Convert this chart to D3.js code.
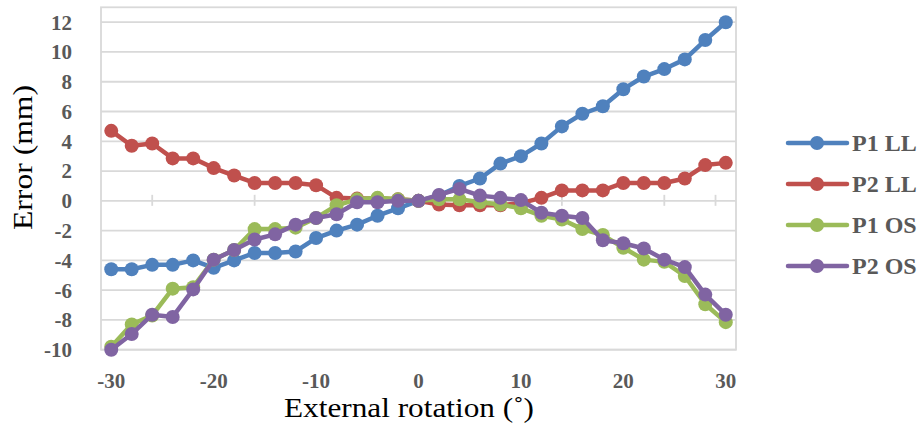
<!DOCTYPE html>
<html>
<head>
<meta charset="utf-8">
<script src="https://cdn.jsdelivr.net/npm/d3@7/dist/d3.min.js"></script>
<style>
  html, body { margin: 0; padding: 0; background: #fff; }
  svg { display: block; }
</style>
</head>
<body>
<svg id="chart" width="921" height="426" font-family="'Liberation Serif', 'Times New Roman', Times, serif"></svg>
<script>
// ---- Data ----
const rotation = [-30,-28,-26,-24,-22,-20,-18,-16,-14,-12,-10,-8,-6,-4,-2,0,2,4,6,8,10,12,14,16,18,20,22,24,26,28,30];
const p1LL = [-4.6,-4.6,-4.3,-4.3,-4.0,-4.5,-4.0,-3.5,-3.5,-3.4,-2.5,-2.0,-1.6,-1.0,-0.5,0,0.35,1.0,1.5,2.5,3.0,3.85,5.0,5.85,6.35,7.5,8.35,8.85,9.5,10.8,12.0];
const p2LL = [4.7,3.7,3.85,2.85,2.85,2.2,1.7,1.2,1.2,1.2,1.05,0.2,0.15,0.15,0.1,0,-0.25,-0.3,-0.3,-0.3,-0.15,0.2,0.7,0.7,0.7,1.2,1.2,1.2,1.5,2.4,2.55];
const p1OS = [-9.8,-8.3,-7.7,-5.9,-5.8,-3.95,-3.3,-1.9,-1.9,-1.8,-1.15,-0.3,0.1,0.2,0.1,0,0.1,0.1,-0.1,-0.25,-0.5,-1.0,-1.25,-1.9,-2.3,-3.15,-3.95,-4.1,-5.05,-6.95,-8.15];
const p2OS = [-10.0,-8.95,-7.65,-7.8,-5.95,-3.95,-3.3,-2.6,-2.25,-1.6,-1.15,-0.9,-0.1,-0.1,0,0,0.4,0.8,0.35,0.2,0.05,-0.8,-1.0,-1.15,-2.65,-2.85,-3.2,-3.95,-4.45,-6.3,-7.65];
const seriesNames = ["P1 LL","P2 LL","P1 OS","P2 OS"];
const seriesColors = ["#4F81BD","#C0504D","#9BBB59","#8064A2"];
const xTickLabels = [-30,-20,-10,0,10,20,30];
const xAxisMarks = [-26,-16,-6,4,14,24,29];
const yTickLabels = [-10,-8,-6,-4,-2,0,2,4,6,8,10,12];
const xTitle = "External rotation (˚)";
const yTitle = "Error (mm)";

const seriesData = [p1LL, p2LL, p1OS, p2OS];

// ---- Layout ----
const svg = d3.select("#chart");
const pLeft = 101, pRight = 736, pTop = 7.3, pBottom = 349.7;
const x = d3.scaleLinear().domain([-31, 31]).range([pLeft, pRight]);
const y = d3.scaleLinear().domain([-10, 13]).range([pBottom, pTop]);

svg.append("rect").attr("width", 921).attr("height", 426).attr("fill", "#fff");

// gridlines
svg.append("g").selectAll("line").data(yTickLabels).join("line")
  .attr("x1", pLeft).attr("x2", pRight)
  .attr("y1", d => y(d)).attr("y2", d => y(d))
  .attr("stroke", "#D9D9D9").attr("stroke-width", 1.8);

// plot border
svg.append("rect").attr("x", pLeft).attr("y", pTop)
  .attr("width", pRight - pLeft).attr("height", pBottom - pTop)
  .attr("fill", "none").attr("stroke", "#D9D9D9").attr("stroke-width", 1.8);

// x axis tick marks on zero line
svg.append("g").selectAll("line").data(xAxisMarks).join("line")
  .attr("x1", d => x(d)).attr("x2", d => x(d))
  .attr("y1", y(0) - 6).attr("y2", y(0) + 5)
  .attr("stroke", "#D9D9D9").attr("stroke-width", 1.8);

// y tick labels
svg.append("g").selectAll("text").data(yTickLabels).join("text")
  .attr("x", 72).attr("y", d => y(d))
  .attr("dy", "0.35em")
  .attr("text-anchor", "end")
  .attr("font-size", 21).attr("font-weight", "bold").attr("fill", "#595959")
  .text(d => d);

// x tick labels
svg.append("g").selectAll("text").data(xTickLabels).join("text")
  .attr("x", d => x(d)).attr("y", 388)
  .attr("text-anchor", "middle")
  .attr("font-size", 21).attr("font-weight", "bold").attr("fill", "#595959")
  .text(d => d);

// axis titles
svg.append("text").attr("x", 409).attr("y", 417)
  .attr("text-anchor", "middle").attr("font-size", 28).attr("fill", "#000")
  .attr("textLength", 250).attr("lengthAdjust", "spacingAndGlyphs")
  .text(xTitle);
svg.append("text")
  .attr("transform", "translate(32,157.5) rotate(-90)")
  .attr("text-anchor", "middle").attr("font-size", 28).attr("fill", "#000")
  .attr("textLength", 145).attr("lengthAdjust", "spacingAndGlyphs")
  .text(yTitle);

// series
const line = d3.line().x((d, i) => x(rotation[i])).y(d => y(d));
seriesData.forEach((vals, si) => {
  const g = svg.append("g");
  g.append("path").datum(vals)
    .attr("d", line).attr("fill", "none")
    .attr("stroke", seriesColors[si]).attr("stroke-width", 4.5)
    .attr("stroke-linejoin", "round");
  g.selectAll("circle").data(vals).join("circle")
    .attr("cx", (d, i) => x(rotation[i])).attr("cy", d => y(d))
    .attr("r", 7).attr("fill", seriesColors[si]);
});

// legend
const legY = [143, 184, 225, 266];
const leg = svg.append("g");
seriesNames.forEach((name, i) => {
  const gy = legY[i];
  leg.append("line").attr("x1", 788).attr("x2", 847).attr("y1", gy).attr("y2", gy)
    .attr("stroke", seriesColors[i]).attr("stroke-width", 4.5).attr("stroke-linecap", "round");
  leg.append("circle").attr("cx", 817).attr("cy", gy).attr("r", 7).attr("fill", seriesColors[i]);
  leg.append("text").attr("x", 852).attr("y", gy).attr("dy", "0.35em")
    .attr("font-size", 24).attr("font-weight", "bold").attr("fill", "#595959")
    .text(name);
});
</script>
</body>
</html>
